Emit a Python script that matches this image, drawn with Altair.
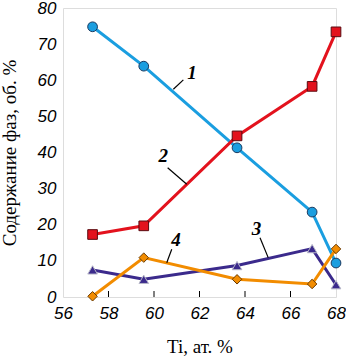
import altair as alt
import pandas as pd

# Data
ti = [57.3, 59.55, 63.65, 66.95, 68.0]
phase1 = [74.8, 63.9, 41.3, 23.5, 9.4]
phase2 = [17.3, 19.7, 44.6, 58.3, 73.4]
phase3 = [7.5, 4.9, 8.7, 13.4, 3.4]
phase4 = [0.2, 10.9, 4.9, 3.6, 13.3]

series_names = ["1", "2", "3", "4"]
series_colors = ["#1a9ee0", "#e3121d", "#3b2a8c", "#f28c00"]
series_shapes = ["circle", "square", "triangle-up", "diamond"]
series_strokes = ["#1a3a60", "#5a0a10", "#b8b8c8", "#6a3a00"]
series_sizes = [95, 90, 50, 135]

x_ticks = [56, 58, 60, 62, 64, 66, 68]
inner_ticks = [58, 60, 62, 64, 66]
y_ticks = [0, 10, 20, 30, 40, 50, 60, 70, 80]

# annotation labels and leader lines (data coordinates)
ann_label = ["1", "2", "3", "4"]
ann_x = [61.67, 60.41, 64.51, 60.97]
ann_y = [62.1, 39.0, 18.7, 15.8]
lead_x1 = [60.85, 60.60, 64.66, 60.78]
lead_y1 = [57.5, 35.8, 16.4, 13.2]
lead_x2 = [61.29, 61.44, 65.02, 60.56]
lead_y2 = [60.1, 31.2, 10.9, 9.5]

rows = []
for name, vals in zip(series_names, [phase1, phase2, phase3, phase4]):
    for x, y in zip(ti, vals):
        rows.append({"ti": x, "v": y, "s": name})
df = pd.DataFrame(rows)

ann = pd.DataFrame({"label": ann_label, "x": ann_x, "y": ann_y})
lead = pd.DataFrame({"x1": lead_x1, "y1": lead_y1, "x2": lead_x2, "y2": lead_y2})
ticks_df = pd.DataFrame({"t": inner_ticks})

W, H = 273, 289
xs = alt.Scale(domain=[56, 68], nice=False, zero=False)
ys = alt.Scale(domain=[0, 80], nice=False)

x_axis = alt.Axis(values=x_ticks, ticks=False, grid=False, domain=False,
                  labelFont="Liberation Sans", labelFontStyle="italic", labelFontSize=17,
                  labelColor="black", labelPadding=8, labelFlush=False, labelOverlap=False,
                  title="Ti, ат. %", titleFont="Liberation Serif", titleFontSize=19,
                  titleFontWeight="normal", titleColor="black", titlePadding=16)
y_axis = alt.Axis(values=y_ticks, ticks=False, grid=False, domain=False,
                  labelFont="Liberation Sans", labelFontStyle="italic", labelFontSize=17,
                  labelColor="black", labelPadding=7, labelFlush=False, labelOverlap=False,
                  labelBound=False,
                  title="Содержание фаз, об. %", titleFont="Liberation Serif", titleFontSize=19,
                  titleFontWeight="normal", titleColor="black", titlePadding=18)


def X(field):
    return alt.X(field, scale=xs, axis=x_axis)


def Y(field):
    return alt.Y(field, scale=ys, axis=y_axis)


color_scale = alt.Scale(domain=series_names, range=series_colors)

lines = alt.Chart(df).mark_line(strokeWidth=3).encode(
    x=X("ti:Q"), y=Y("v:Q"),
    color=alt.Color("s:N", scale=color_scale, legend=None),
)

points = alt.Chart(df).mark_point(filled=True, opacity=1, strokeWidth=1).encode(
    x=X("ti:Q"), y=Y("v:Q"),
    fill=alt.Fill("s:N", scale=color_scale, legend=None),
    shape=alt.Shape("s:N", scale=alt.Scale(domain=series_names, range=series_shapes), legend=None),
    stroke=alt.Stroke("s:N", scale=alt.Scale(domain=series_names, range=series_strokes), legend=None),
    size=alt.Size("s:N", scale=alt.Scale(domain=series_names, range=series_sizes), legend=None),
)

leaders = alt.Chart(lead).mark_rule(color="black", strokeWidth=1.2).encode(
    x=X("x1:Q"), y=Y("y1:Q"),
    x2="x2:Q", y2="y2:Q",
)

labels = alt.Chart(ann).mark_text(font="Liberation Serif", fontSize=19, fontStyle="italic",
                                  fontWeight="bold", color="black").encode(
    x=X("x:Q"), y=Y("y:Q"), text="label:N",
)

tick_marks = alt.Chart(ticks_df).mark_rule(color="black", strokeWidth=1).encode(
    x=X("t:Q"), y=alt.value(H), y2=alt.value(H - 6),
)

chart = alt.layer(lines, leaders, labels, tick_marks, points).properties(
    width=W, height=H,
    autosize=alt.AutoSizeParams(type="none"),
    padding={"left": 63, "top": 8, "right": 10, "bottom": 59},
).configure_view(stroke="black", strokeWidth=1.2, fill="white").configure(background="white")

chart.save("out.html", embed_options={"renderer": "svg", "actions": False})
